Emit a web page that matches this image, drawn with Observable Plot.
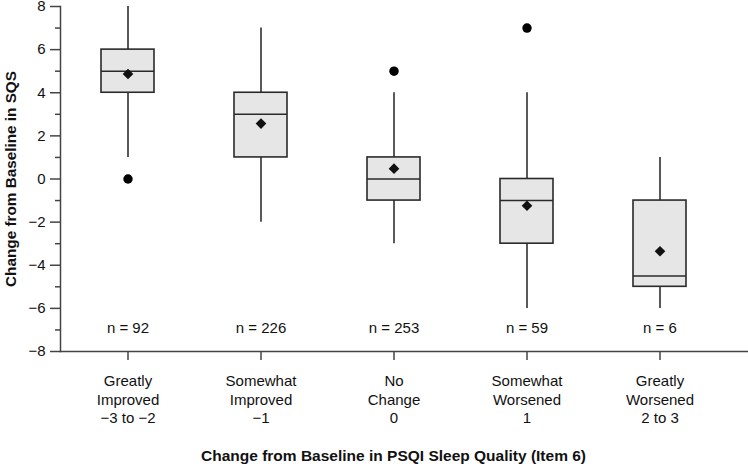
<!DOCTYPE html>
<html>
<head>
<meta charset="utf-8">
<script src="https://cdn.jsdelivr.net/npm/d3@7"></script>
<script src="https://cdn.jsdelivr.net/npm/@observablehq/plot@0.6"></script>
<style>
  html, body { margin: 0; padding: 0; background: #fff; }
</style>
</head>
<body>
<div id="chart"></div>
<script>
const categories = ["Greatly Improved", "Somewhat Improved", "No Change", "Somewhat Worsened", "Greatly Worsened"];
const tickLabels = ["Greatly\nImproved\n−3 to −2", "Somewhat\nImproved\n−1", "No\nChange\n0", "Somewhat\nWorsened\n1", "Greatly\nWorsened\n2 to 3"];
const nCounts = [92, 226, 253, 59, 6];
const whiskerLow = [1, -2, -3, -6, -6];
const q1 = [4, 1, -1, -3, -5];
const median = [5, 3, 0, -1, -4.5];
const q3 = [6, 4, 1, 0, -1];
const whiskerHigh = [8, 7, 4, 4, 1];
const mean = [4.87, 2.57, 0.48, -1.24, -3.35];
const outlierCategory = ["Greatly Improved", "No Change", "Somewhat Worsened"];
const outlierValue = [0, 5, 7];
const yTicks = [-8, -6, -4, -2, 0, 2, 4, 6, 8];
const yMinorTicks = [-7, -5, -3, -1, 1, 3, 5, 7];
const yTitle = "Change from Baseline in SQS";
const xTitle = "Change from Baseline in PSQI Sleep Quality (Item 6)";

const rows = categories.map((c, i) => ({
  category: c, n: nCounts[i], lo: whiskerLow[i], q1: q1[i], median: median[i],
  q3: q3[i], hi: whiskerHigh[i], mean: mean[i]
}));
const outliers = outlierCategory.map((c, i) => ({category: c, value: outlierValue[i]}));

const fmt = d3.format("");
const axisColor = "#444";

const chart = Plot.plot({
  width: 748,
  height: 467,
  marginTop: 6,
  marginBottom: 116,
  marginLeft: 60,
  marginRight: 0,
  style: {fontFamily: "'Liberation Sans', Arial, sans-serif", fontSize: "15px", color: "#111", background: "#fff"},
  x: {type: "band", domain: categories, range: [59.5, 726.5], padding: 0},
  y: {domain: [-8, 8]},
  marks: [
    Plot.ruleX(rows, {x: "category", y1: "lo", y2: "hi", stroke: "#222", strokeWidth: 1.5}),
    Plot.barY(rows, {x: "category", y1: "q1", y2: "q3", fill: "#e6e6e6", stroke: "#2a2a2a", strokeWidth: 1.6, insetLeft: 40, insetRight: 40}),
    Plot.tickY(rows, {x: "category", y: "median", stroke: "#2a2a2a", strokeWidth: 1.5, insetLeft: 40, insetRight: 40}),
    Plot.dot(rows, {x: "category", y: "mean", symbol: "diamond2", r: 4.8, fill: "#111"}),
    Plot.dot(outliers, {x: "category", y: "value", r: 4.7, fill: "#000"}),
    Plot.text(rows, {x: "category", text: d => `n = ${d.n}`, frameAnchor: "bottom", dy: -19, fontSize: 15, fill: "#111"}),
    Plot.axisY({ticks: yTicks, tickSize: 10, tickPadding: 5, tickFormat: fmt, stroke: axisColor, strokeWidth: 1.5, fontSize: 15, label: null}),
    Plot.axisY({ticks: yMinorTicks, tickSize: 5, tickFormat: () => "", stroke: axisColor, strokeWidth: 1.5, label: null}),
    Plot.axisX({tickSize: 9, tickPadding: 12, tickFormat: d => tickLabels[categories.indexOf(d)], lineHeight: 1.25, stroke: axisColor, strokeWidth: 1.5, fontSize: 15, label: null}),
    Plot.frame({anchor: "left", stroke: axisColor, strokeWidth: 1.5}),
    Plot.frame({anchor: "bottom", stroke: axisColor, strokeWidth: 1.5}),
    Plot.text([yTitle], {frameAnchor: "left", textAnchor: "middle", dx: -49, rotate: -90, fontWeight: "bold", fontSize: 15.3, fill: "#111"}),
    Plot.text([xTitle], {frameAnchor: "bottom", dx: -11, dy: 109, fontWeight: "bold", fontSize: 15.5, fill: "#111"})
  ]
});
document.getElementById("chart").appendChild(chart);
</script>
</body>
</html>
